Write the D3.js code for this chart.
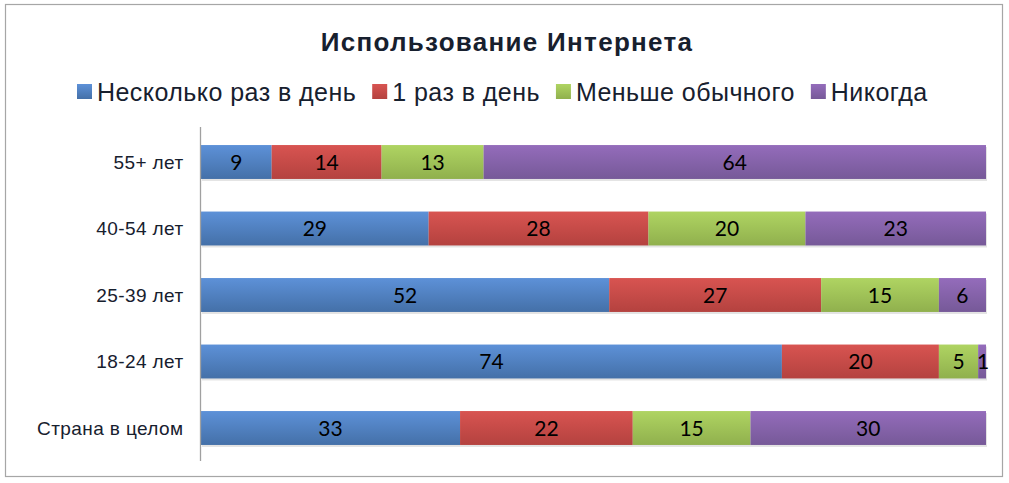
<!DOCTYPE html>
<html><head><meta charset="utf-8">
<script src="https://cdn.jsdelivr.net/npm/d3@7"></script>
<style>body{margin:0;background:#fff}svg{display:block}</style>
</head><body>
<svg id="c" width="1009" height="483"></svg>
<script>
const categories = ["55+ лет","40-54 лет","25-39 лет","18-24 лет","Страна в целом"];
const seriesNames = ["Несколько раз в день","1 раз в день","Меньше обычного","Никогда"];
const severalTimes = [9,29,52,74,33];
const oncePerDay = [14,28,27,20,22];
const lessThanUsual = [13,20,15,5,15];
const never = [64,23,6,1,30];
const seriesValues = [severalTimes, oncePerDay, lessThanUsual, never];
const title = "Использование Интернета";

const colors = [["#5d91d8","#4470a8"],["#d85451","#b4423f"],["#afd462","#90b04d"],["#946cbb","#765998"]];

const svg = d3.select("#c");
const defs = svg.append("defs");
colors.forEach((c,i)=>{
  const g = defs.append("linearGradient").attr("id","g"+i).attr("x1",0).attr("y1",0).attr("x2",0).attr("y2",1);
  g.append("stop").attr("offset","0%").attr("stop-color",c[0]);
  g.append("stop").attr("offset","100%").attr("stop-color",c[1]);
});

svg.append("rect").attr("x",5.5).attr("y",4.5).attr("width",997).attr("height",472)
  .attr("fill","#fff").attr("stroke","#a6a6a6").attr("stroke-width",1.2);

svg.append("text").attr("x",507).attr("y",51).attr("text-anchor","middle")
  .attr("font-family","Liberation Sans, Arial, sans-serif").attr("font-weight","bold")
  .attr("font-size",26).attr("letter-spacing",1.3).attr("fill","#17202e").text(title);

const x = d3.scaleLinear().domain([0,100]).range([201,986]);
const y = d3.scaleBand().domain(categories).range([128.75,461.25]).paddingInner(0.49).paddingOuter(0.245);

const rows = categories.map((c,i)=>{
  let acc=0; const r={cat:c,segs:[]};
  seriesValues.forEach((s,k)=>{ r.segs.push({k,v:s[i],x0:acc,x1:acc+s[i]}); acc+=s[i]; });
  return r;
});

// shadow
svg.append("g").selectAll("rect").data(rows).join("rect")
  .attr("x",x(0)+1).attr("y",d=>y(d.cat)+2).attr("width",x(100)-x(0))
  .attr("height",y.bandwidth()).attr("fill","#d0d0d0").attr("opacity",0.6);

const rowG = svg.append("g").selectAll("g").data(rows).join("g");
rowG.selectAll("rect").data(d=>d.segs.map(s=>({...s,cat:d.cat}))).join("rect")
  .attr("x",d=>x(d.x0)).attr("y",d=>y(d.cat)).attr("width",d=>x(d.x1)-x(d.x0))
  .attr("height",y.bandwidth()).attr("fill",d=>"url(#g"+d.k+")");
rowG.selectAll("text").data(d=>d.segs.map(s=>({...s,cat:d.cat}))).join("text")
  .attr("x",d=>{const cx=(x(d.x0)+x(d.x1))/2; return d.v<=1? cx+1 : cx;})
  .attr("y",d=>y(d.cat)+y.bandwidth()/2+7.5)
  .attr("text-anchor","middle").attr("font-family","Lato, Carlito, Calibri, sans-serif")
  .attr("font-size",21).attr("fill","#000").text(d=>d.v);

// axis
const ax = svg.append("g").attr("transform","translate(200.5,0)")
  .call(d3.axisLeft(y).tickSize(0).tickPadding(17));
ax.select(".domain").attr("stroke","#a0a0a0").attr("stroke-width",1.3).attr("d","M0,127V461");
ax.selectAll("text").attr("font-family","Liberation Sans, Arial, sans-serif")
  .attr("font-size",19).attr("letter-spacing",0.4).attr("fill","#17202e").attr("dy","0.35em");

// legend
const lg = svg.append("g").attr("font-family","Liberation Sans, Arial, sans-serif")
  .attr("font-size",25).attr("letter-spacing",0.45);
let lx = 77;
seriesNames.forEach((n,i)=>{
  lg.append("rect").attr("x",lx).attr("y",84).attr("width",15).attr("height",15).attr("fill","url(#g"+i+")");
  const t = lg.append("text").attr("x",lx+20).attr("y",101).attr("fill","#17202e").text(n);
  lx += 20 + t.node().getComputedTextLength() + 16;
});
</script>
</body></html>
